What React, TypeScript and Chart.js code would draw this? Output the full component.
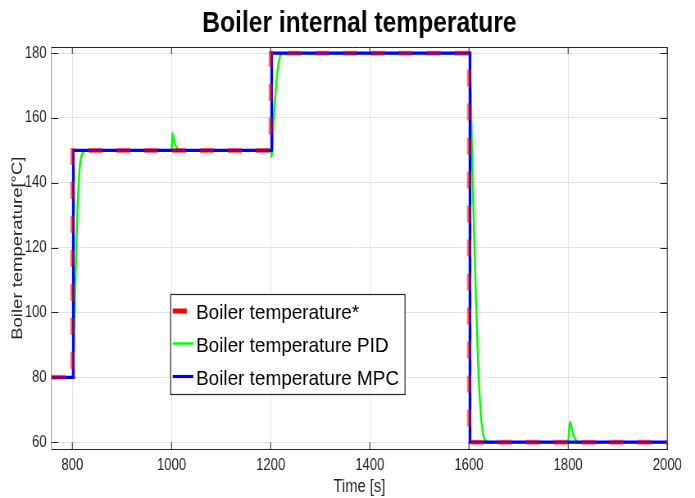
import React, { useEffect, useRef } from 'react';
import { Chart, registerables } from 'chart.js';
Chart.register(...registerables);

// ---- text ----
const chartTitle = 'Boiler internal temperature';
const xTitle = 'Time [s]';
const yTitle = 'Boiler temperature[°C]';
const seriesNames = ['Boiler temperature*', 'Boiler temperature PID', 'Boiler temperature MPC'];

// ---- data ----
const refTimes = [758, 800, 800, 1200, 1200, 1600, 1600, 2000];
const refValues = [80, 80, 150, 150, 180, 180, 60, 60];

const mpcTimes = [758, 802, 802, 1202, 1202, 1602, 1602, 2000];
const mpcValues = [80, 80, 150, 150, 180, 180, 60, 60];

const pidTimes = [758, 800, 802, 804, 806, 809, 812, 815, 818, 822, 828,
  1000, 1001, 1002, 1004, 1007, 1011, 1016, 1022,
  1200, 1201, 1202, 1204, 1206, 1209, 1212, 1215, 1218, 1223,
  1600, 1602, 1604, 1606, 1610, 1614, 1618, 1622, 1626, 1630, 1635, 1642,
  1800, 1802, 1804, 1807, 1811, 1816, 1822, 2000];
const pidValues = [80, 80, 85, 95, 108, 125, 137, 145, 148, 149.5, 150,
  150, 152, 155.3, 154, 152, 150.7, 150.1, 150,
  150, 149, 148, 152, 159, 166, 172, 176, 178.5, 180,
  180, 178, 165, 150, 126, 104, 86, 73, 65, 61.5, 60.3, 60,
  60, 64, 66.2, 64.5, 62, 60.5, 60, 60];

const xTicks = [800, 1000, 1200, 1400, 1600, 1800, 2000];
const yTicks = [60, 80, 100, 120, 140, 160, 180];
const xRange = [758, 2000];
const yRange = [57.8, 181.9];

// ---- layout ----
const W = 695;
const H = 498;
const CW = 848;
const S = W / CW;
const sx = (v: number) => v / S;
const FAMILY = "'Liberation Sans', Arial, Helvetica, sans-serif";
const AXIS_COLOR = '#262626';

const toPoints = (xs: number[], ys: number[]) => xs.map((x, i) => ({ x, y: ys[i] }));

const decorPlugin = {
  id: 'decor',
  beforeDatasetsDraw(chart: any) {
    const { ctx, chartArea: a, scales } = chart;
    ctx.save();
    ctx.strokeStyle = AXIS_COLOR;
    ctx.lineWidth = 1;
    const tl = sx(7);
    xTicks.forEach((v) => {
      const px = scales.x.getPixelForValue(v);
      ctx.beginPath();
      ctx.moveTo(px, a.bottom);
      ctx.lineTo(px, a.bottom - 7);
      ctx.moveTo(px, a.top);
      ctx.lineTo(px, a.top + 7);
      ctx.stroke();
    });
    yTicks.forEach((v) => {
      const py = Math.round(scales.y.getPixelForValue(v)) + 0.5;
      ctx.beginPath();
      ctx.moveTo(a.left, py);
      ctx.lineTo(a.left + tl, py);
      ctx.moveTo(a.right, py);
      ctx.lineTo(a.right - tl, py);
      ctx.stroke();
    });
    ctx.restore();
  },
  afterDraw(chart: any) {
    const { ctx, chartArea: a } = chart;
    ctx.save();
    // top & right box lines
    ctx.strokeStyle = AXIS_COLOR;
    ctx.lineWidth = 1;
    ctx.beginPath();
    ctx.moveTo(a.left, Math.round(a.top) + 0.5);
    ctx.lineTo(a.right, Math.round(a.top) + 0.5);
    ctx.lineTo(a.right, a.bottom);
    ctx.stroke();

    // title
    ctx.fillStyle = '#000';
    ctx.font = `bold 30px ${FAMILY}`;
    ctx.textAlign = 'center';
    ctx.textBaseline = 'alphabetic';
    ctx.fillText(chartTitle, (a.left + a.right) / 2, 32.3);

    // legend
    const x0 = sx(170.7), x1 = sx(405), y0 = 294.5, y1 = 394.5;
    ctx.fillStyle = '#fff';
    ctx.fillRect(x0, y0, x1 - x0, y1 - y0);
    ctx.strokeStyle = AXIS_COLOR;
    ctx.lineWidth = 1.2;
    ctx.strokeRect(x0, y0, x1 - x0, y1 - y0);
    const rows = [
      { y: 311, color: '#ff0000', w: 5, len: sx(14) },
      { y: 343.5, color: '#00ff00', w: 2.5, len: sx(20.6) },
      { y: 376.5, color: '#0000ff', w: 3.2, len: sx(20.6) },
    ];
    rows.forEach((r, i) => {
      ctx.strokeStyle = r.color;
      ctx.lineWidth = r.w;
      ctx.beginPath();
      ctx.moveTo(sx(172.7), r.y);
      ctx.lineTo(sx(172.7) + r.len, r.y);
      ctx.stroke();
      ctx.save();
      ctx.translate(sx(196), r.y + 8);
      ctx.scale(1.1, 1);
      ctx.fillStyle = '#000';
      ctx.font = `21px ${FAMILY}`;
      ctx.textAlign = 'left';
      ctx.textBaseline = 'alphabetic';
      ctx.fillText(seriesNames[i], 0, 0);
      ctx.restore();
    });
    ctx.restore();
  },
};

export default function App() {
  const ref = useRef<HTMLCanvasElement>(null);
  useEffect(() => {
    document.body.style.margin = '0';
    const chart = new Chart(ref.current as HTMLCanvasElement, {
      type: 'line',
      data: {
        datasets: [
          {
            label: seriesNames[0],
            data: toPoints(refTimes, refValues),
            borderColor: 'rgba(255,0,0,0.55)',
            borderWidth: 5,
            borderDash: [17, 17],
            pointRadius: 0,
            tension: 0,
            borderJoinStyle: 'miter',
          },
          {
            label: seriesNames[2],
            data: toPoints(mpcTimes, mpcValues),
            borderColor: '#0000ff',
            borderWidth: 3.3,
            pointRadius: 0,
            tension: 0,
            borderJoinStyle: 'miter',
          },
          {
            label: seriesNames[1],
            data: toPoints(pidTimes, pidValues),
            borderColor: '#00ff00',
            borderWidth: 2.5,
            pointRadius: 0,
            cubicInterpolationMode: 'monotone',
          },
        ],
      },
      options: {
        responsive: false,
        animation: false,
        devicePixelRatio: 1,
        layout: { padding: { top: 47, right: CW - sx(667.3), bottom: 0, left: 0 } },
        plugins: { legend: { display: false }, tooltip: { enabled: false }, title: { display: false } },
        scales: {
          x: {
            type: 'linear',
            min: xRange[0],
            max: xRange[1],
            afterBuildTicks: (s: any) => { s.ticks = xTicks.map((v) => ({ value: v })); },
            afterFit: (s: any) => { s.height = H - 449.3; },
            grid: { color: '#e4e4e4', lineWidth: 1, drawTicks: false },
            border: { color: AXIS_COLOR, width: 1 },
            ticks: { font: { family: FAMILY, size: 16 }, color: AXIS_COLOR, padding: 7, autoSkip: false, maxRotation: 0, callback: (v: any) => String(v) },
            title: { display: true, text: xTitle, font: { family: FAMILY, size: 18 }, color: AXIS_COLOR, padding: { top: 0, bottom: 0 } },
          },
          y: {
            type: 'linear',
            min: yRange[0],
            max: yRange[1],
            afterBuildTicks: (s: any) => { s.ticks = yTicks.map((v) => ({ value: v })); },
            afterFit: (s: any) => { s.width = sx(51.5); },
            grid: { color: '#e4e4e4', lineWidth: 1, drawTicks: false },
            border: { color: '#9a9a9a', width: 1 },
            ticks: { font: { family: FAMILY, size: 16 }, color: AXIS_COLOR, padding: 6, callback: (v: any) => String(v) },
            title: { display: true, text: yTitle, font: { family: FAMILY, size: 18.5 }, color: AXIS_COLOR, padding: { top: 11, bottom: 0 } },
          },
        },
      },
      plugins: [decorPlugin],
    } as any);
    return () => chart.destroy();
  }, []);
  return (
    <div style={{ position: 'fixed', left: 0, top: 0, width: W, height: H, overflow: 'hidden', background: '#fff' }}>
      <div style={{ width: CW, height: H, transform: `scaleX(${S})`, transformOrigin: '0 0' }}>
        <canvas ref={ref} width={CW} height={H} style={{ display: 'block' }} />
      </div>
    </div>
  );
}
